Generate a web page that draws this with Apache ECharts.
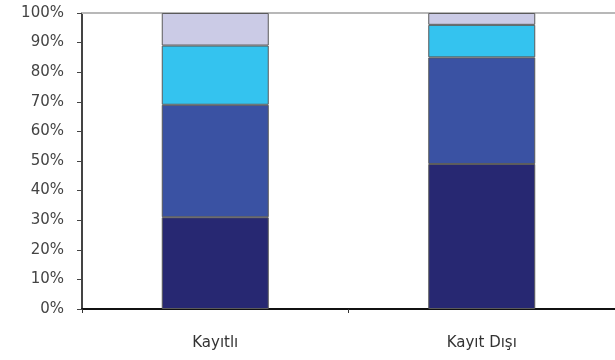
<!DOCTYPE html>
<html><head><meta charset="utf-8">
<script src="https://cdn.jsdelivr.net/npm/echarts@6/dist/echarts.min.js"></script>
<style>html,body{margin:0;padding:0;background:#fff}#c{width:615px;height:360px}</style>
</head><body><div id="c"></div>
<script>
const categories = ['Kayıtlı', 'Kayıt Dışı'];
const seg1 = [31, 49];
const seg2 = [38, 36];
const seg3 = [20, 11];
const seg4 = [11, 4];
const yTicks = [0, 10, 20, 30, 40, 50, 60, 70, 80, 90, 100];
const colors = ['#272872', '#3a52a3', '#34c3ef', '#cbcbe6'];

const font = 'DejaVu Sans';
function mk(data, i) {
  return {
    type: 'bar', stack: 's', data: data, barWidth: 107,
    itemStyle: { color: colors[i], borderColor: '#5a5a5a', borderWidth: 1 },
    xAxisIndex: 0
  };
}
const chart = echarts.init(document.getElementById('c'), null, { renderer: 'canvas' });
chart.setOption({
  animation: false,
  grid: { left: 82, top: 13, bottom: 51, right: -4 },
  xAxis: [{
    type: 'category', data: categories, boundaryGap: true,
    axisLine: { lineStyle: { color: '#111', width: 2 } },
    axisTick: { show: true, length: 4, lineStyle: { color: '#333', width: 1 } },
    axisLabel: { color: '#333', fontFamily: font, fontSize: 15, margin: 27 }
  }, {
    type: 'category', data: categories, position: 'top',
    axisLine: { show: true, lineStyle: { color: '#b8b8b8', width: 2 } },
    axisTick: { show: false }, axisLabel: { show: false }
  }],
  yAxis: {
    type: 'value', min: yTicks[0], max: yTicks[yTicks.length - 1], interval: 10,
    axisLine: { show: true, lineStyle: { color: '#444', width: 2 } },
    axisTick: { show: true, length: 5, lineStyle: { color: '#444' } },
    splitLine: { show: false },
    axisLabel: { color: '#444', fontFamily: font, fontSize: 15, margin: 18, formatter: '{value}%' }
  },
  series: [mk(seg1, 0), mk(seg2, 1), mk(seg3, 2), mk(seg4, 3)]
});
</script></body></html>
